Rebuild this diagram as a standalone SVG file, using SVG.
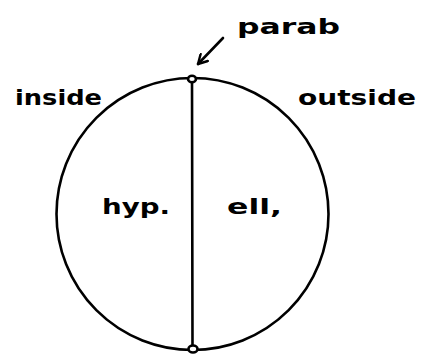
<svg xmlns="http://www.w3.org/2000/svg" width="421" height="355" viewBox="0 0 421 355">
<style>
.ln{fill:none;stroke:#000;stroke-width:2.6;stroke-linecap:round;stroke-linejoin:round}
.dot{fill:#fff;stroke:#000;stroke-width:2.6}
.t{font-family:"DejaVu Sans",sans-serif;font-size:22px;fill:#000;font-weight:bold}
</style>
<defs>
<marker id="ah" viewBox="0 0 12 12" refX="10" refY="6" markerWidth="12" markerHeight="12" markerUnits="userSpaceOnUse" orient="auto">
<path d="M1,1 L10,6 L1,11" fill="none" stroke="#000" stroke-width="2.4" stroke-linecap="round" stroke-linejoin="round"/>
</marker>
</defs>
<rect width="421" height="355" fill="#fff"/>
<g id="circle"><circle class="ln" cx="192.5" cy="214" r="136"/></g>
<g id="connectors">
<line class="ln" x1="192" y1="80" x2="192.5" y2="348"/>
<line class="ln" x1="223" y1="38" x2="198" y2="64" marker-end="url(#ah)"/>
</g>
<g id="dot-top"><ellipse class="dot" cx="192" cy="79" rx="4" ry="3.2"/></g>
<g id="dot-bottom"><ellipse class="dot" cx="193" cy="349" rx="4.5" ry="3.5"/></g>
<g id="label-parab"><text class="t" x="237" y="34" textLength="103" lengthAdjust="spacingAndGlyphs">parab</text></g>
<g id="label-inside"><text class="t" x="15" y="105" textLength="87" lengthAdjust="spacingAndGlyphs">inside</text></g>
<g id="label-outside"><text class="t" x="298" y="105" textLength="118" lengthAdjust="spacingAndGlyphs">outside</text></g>
<g id="label-hyp"><text class="t" x="102" y="214" textLength="68" lengthAdjust="spacingAndGlyphs">hyp.</text></g>
<g id="label-ell"><text class="t" x="227" y="214" textLength="55" lengthAdjust="spacingAndGlyphs">ell,</text></g>
</svg>
